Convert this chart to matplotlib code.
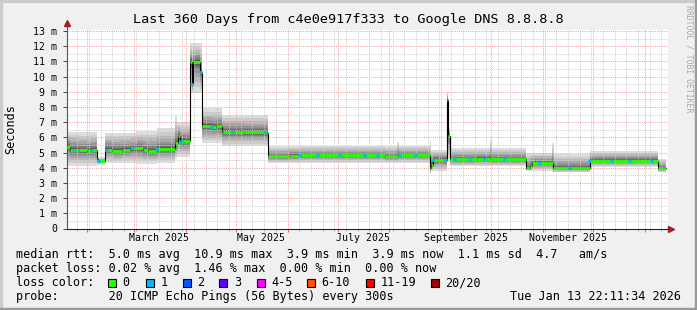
import matplotlib
matplotlib.use('Agg')
import matplotlib.pyplot as plt
import matplotlib.dates as mdates
from matplotlib.ticker import MultipleLocator, FuncFormatter, NullFormatter
from matplotlib.patches import Rectangle
import numpy as np

# median rtt (ms), step values; day = days since 2025-01-01
med_day = [18.9, 20.5, 26, 31, 33, 36.8, 37.5, 41.6, 45.8, 51.8, 56.6, 64.4,
           67.4, 72.8, 83.6, 85.3, 86.5, 92.5, 93.7, 94.3, 98.5, 99.7, 105.7,
           108.1, 111.7, 112.3, 125, 138.6, 139.2, 152.4, 158.4, 209.3, 217.1,
           236.2, 237.0, 238.0, 246.4, 247.0, 248.2, 264.4, 272.8, 293.7,
           296.1, 297.3, 309.9, 332.1, 372.8, 377.6]
med_ms = [5.38, 5.2, 5.15, 5.12, 5.18, 4.55, 4.42, 5.2, 5.1, 5.18, 5.27, 5.15,
          5.1, 5.23, 5.6, 6.1, 5.78, 10.95, 9.5, 10.95, 10.3, 6.75, 6.65,
          6.72, 6.4, 6.36, 6.33, 6.3, 4.75, 4.78, 4.83, 4.75, 4.83,
          4.0, 4.2, 4.5, 8.45, 6.1, 4.55, 4.58, 4.55, 3.95,
          4.13, 4.3, 3.95, 4.47, 3.97, 3.97]

# smoke (min / max of the 20 pings), step values
smoke_day = [18.9, 36.8, 41.6, 60, 72.8, 83.6, 84.6, 92.5, 99.7, 111.7, 139.2,
             216.5, 217.7, 236.2, 237.2, 246.4, 247.0, 248.2, 272.3, 273.5,
             293.7, 309.5, 310.5, 332.1, 372.8, 377.6]
smoke_lo = [4.1, 4.2, 4.3, 4.25, 4.3, 4.6, 4.7, 8.9, 5.6, 5.4, 4.3,
            4.3, 4.3, 3.6, 3.8, 5.4, 4.6, 4.1, 4.1, 4.1,
            3.8, 3.7, 3.7, 4.05, 3.7, 3.7]
smoke_hi = [6.35, 4.7, 6.3, 6.4, 6.6, 7.4, 7.0, 12.2, 7.9, 7.5, 5.45,
            5.7, 5.45, 5.8, 5.2, 9.0, 6.6, 5.3, 5.8, 5.3,
            5.0, 5.6, 4.9, 5.1, 4.6, 4.6]

# days where one ping of 20 was lost
loss1_day = [22.5, 33.3, 38.0, 42.8, 58.4, 72.8, 87.7, 93.7, 99.1, 105.7,
             118.3, 137.4, 158.4, 169.2, 182.4, 197.3, 205.1, 218.3, 227.9,
             238.0, 245.8, 251.2, 260.2, 269.2, 281.2, 302.1, 320.1, 332.1,
             345.3, 356.0, 369.2]

label_day = [74, 135, 196, 258, 319]
label_txt = ['March 2025', 'May 2025', 'July 2025', 'September 2025', 'November 2025']

loss_names = ['0', '1', '2', '3', '4-5', '6-10', '11-19', '20/20']
loss_colors = ['#26ff00', '#00b8ff', '#0059ff', '#5e00ff', '#ff00ff', '#ff5500', '#ff0000', '#a00000']

W, H = 697, 310
MONO = 'DejaVu Sans Mono'


def fx(px):
    return px / W


def fy(py):
    return 1 - py / H


base = mdates.date2num(np.datetime64('2025-01-01'))

fig = plt.figure(figsize=(W / 100, H / 100), dpi=100, facecolor='#f0f0f0')
ax = fig.add_axes([fx(67), fy(228.5), 601 / W, 199 / H])
ax.set_facecolor('white')

# step lookup on a common grid
grid = np.unique(np.concatenate([med_day, smoke_day]))
mi = np.searchsorted(med_day, grid, side='right') - 1
si = np.searchsorted(smoke_day, grid, side='right') - 1
med = np.array(med_ms)[mi]
lo = np.array(smoke_lo)[si]
hi = np.array(smoke_hi)[si]
xs = base + grid

# smoke layers, light outside -> dark near the median
for k in range(1, 11):
    frac = ((11 - k) / 10) ** 2.0
    g = int(185 / 10 * (10 - k)) + 55
    col = '#%02x%02x%02x' % (g, g, g)
    ax.fill_between(xs, med - frac * (med - lo), med + frac * (hi - med),
                    step='post', color=col, lw=0, zorder=1)

ax.step(base + np.array(med_day), med_ms, where='post', color='black', lw=0.8, zorder=2)
for i in range(len(med_day) - 1):
    ax.hlines(med_ms[i], base + med_day[i], base + med_day[i + 1],
              color=loss_colors[0], lw=2.0, zorder=3)
for d in loss1_day:
    v = med_ms[np.searchsorted(med_day, d, side='right') - 1]
    ax.hlines(v, base + d - 0.9, base + d + 0.9, color=loss_colors[1], lw=2.0, zorder=4)

ax.set_xlim(base + 18.9, base + 378.9)
ax.set_ylim(0, 13.1)
ax.xaxis_date()

ax.xaxis.set_major_locator(mdates.MonthLocator())
ax.xaxis.set_minor_locator(mdates.WeekdayLocator(byweekday=mdates.SU))
ax.xaxis.set_major_formatter(NullFormatter())
ax.xaxis.set_minor_formatter(NullFormatter())
ax.yaxis.set_major_locator(MultipleLocator(1))
ax.yaxis.set_minor_locator(MultipleLocator(0.5))
ax.yaxis.set_major_formatter(FuncFormatter(lambda v, p: '0' if v == 0 else '%d m' % round(v)))

ax.set_axisbelow('line')
ax.grid(which='minor', color='#cccccc', lw=0.72, ls=(0, (1, 1.2)))
ax.grid(which='major', color='#f2a0a0', lw=0.72, ls=(0, (1, 1.2)))

ax.tick_params(axis='y', which='major', length=3, width=0.7, color='#444444',
               labelsize=7.1, pad=4, labelfontfamily=MONO)
ax.tick_params(axis='y', which='minor', length=0)
ax.tick_params(axis='x', which='major', length=2.5, width=0.7, color='#e06060')
ax.tick_params(axis='x', which='minor', length=1.5, width=0.7, color='#aaaaaa')

for s in ['top', 'right']:
    ax.spines[s].set_visible(False)
ax.spines['left'].set_color('#555555')
ax.spines['bottom'].set_color('#222222')
ax.spines['left'].set_linewidth(0.8)
ax.spines['bottom'].set_linewidth(0.8)
ax.plot([0, 0], [1, 1.03], transform=ax.transAxes, color='#555555', lw=0.8, clip_on=False)
ax.plot([1, 1.004], [0, 0], transform=ax.transAxes, color='#222222', lw=0.8, clip_on=False)
ax.plot([0], [1.032], marker='^', ms=4.5, color='#a02020', transform=ax.transAxes, clip_on=False)
ax.plot([1.005], [0], marker='>', ms=4.5, color='#a02020', transform=ax.transAxes, clip_on=False)

for d, t in zip(label_day, label_txt):
    ax.annotate(t, (base + d, 0), xycoords=('data', 'axes fraction'),
                xytext=(0, -9.5), textcoords='offset pixels',
                ha='center', va='center', size=7.1, family=MONO)

# texts around the plot
fig.text(fx(348), fy(19), 'Last 360 Days from c4e0e917f333 to Google DNS 8.8.8.8',
         ha='center', va='center', size=9.7, family=MONO)
fig.text(fx(11), fy(129), 'Seconds', rotation=90, ha='center', va='center',
         size=8.5, family=MONO)
fig.text(fx(688.5), fy(59), 'RRDTOOL / TOBI OETIKER', rotation=270, ha='center',
         va='center', size=5.9, family=MONO, color='#a8a8a8')

legend_lines = [
    'median rtt:  5.0 ms avg  10.9 ms max  3.9 ms min  3.9 ms now  1.1 ms sd  4.7   am/s',
    'packet loss: 0.02 % avg  1.46 % max  0.00 % min  0.00 % now',
    'loss color:',
    'probe:       20 ICMP Echo Pings (56 Bytes) every 300s',
]
line_y = [254.5, 268.5, 282.5, 296.5]
for t, y in zip(legend_lines, line_y):
    fig.text(fx(15.5), fy(y), t, ha='left', va='center', size=8.5, family=MONO)

box_x = [108, 145.7, 182.7, 219.3, 256.7, 306.7, 365.7, 431]
for bx, name, col in zip(box_x, loss_names, loss_colors):
    fig.patches.append(Rectangle((fx(bx), fy(286.5)), 8 / W, 8 / H, transform=fig.transFigure,
                                 facecolor=col, edgecolor='black', lw=0.8))
    fig.text(fx(bx + 14.5), fy(282.5), name, ha='left', va='center', size=8.5, family=MONO)

fig.text(fx(681), fy(296.5), 'Tue Jan 13 22:11:34 2026', ha='right', va='center',
         size=8.5, family=MONO)

# 3d border
fig.patches.append(Rectangle((0, 1 - 2 / H), 1, 2 / H, transform=fig.transFigure, color='#cbcbcb'))
fig.patches.append(Rectangle((0, 0), 2 / W, 1, transform=fig.transFigure, color='#cbcbcb'))
fig.patches.append(Rectangle((0, 0), 1, 2 / H, transform=fig.transFigure, color='#999999'))
fig.patches.append(Rectangle((1 - 2 / W, 0), 2 / W, 1, transform=fig.transFigure, color='#999999'))

fig.savefig('out.png', dpi=100, facecolor=fig.get_facecolor())
